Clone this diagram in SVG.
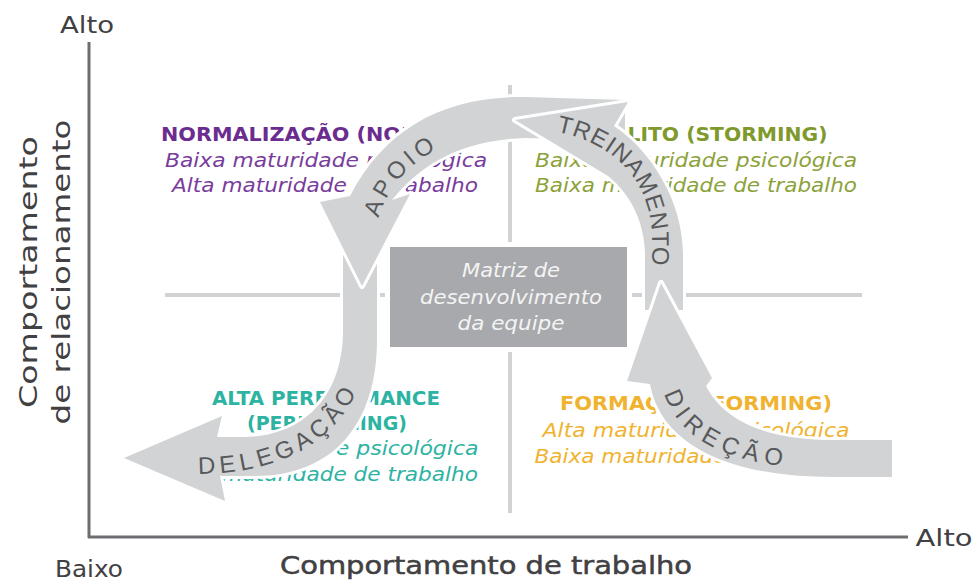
<svg xmlns="http://www.w3.org/2000/svg" width="978" height="581" viewBox="0 0 978 581">
<style>
.axis{stroke:#6d6e71;stroke-width:3;fill:none}
.div{stroke:#d1d2d4;stroke-width:4;fill:none}
.lbl{font-family:'DejaVu Sans','Liberation Sans',sans-serif;fill:#414042}
.t{font-family:'DejaVu Sans','Liberation Sans',sans-serif;font-weight:bold;font-size:20px;text-anchor:middle}
.s{font-family:'DejaVu Sans','Liberation Sans',sans-serif;font-style:italic;font-size:20px;text-anchor:middle}
.norm{fill:#6b2c8f}
.norms{fill:#7a3c9c}
.storm{fill:#7f9a2c}
.storms{fill:#8ca23a}
.perf{fill:#2db3a2}
.form{fill:#f0b330}
.arrOut{fill:#ffffff;stroke:#ffffff;stroke-width:6;stroke-linejoin:round}
.arr{fill:#d1d3d4}
.al{font-family:'Liberation Sans','DejaVu Sans',sans-serif;font-size:24px;fill:#58595b}
.box{fill:#a7a9ac}
.boxt{font-family:'DejaVu Sans','Liberation Sans',sans-serif;font-style:italic;font-size:19px;fill:#f4f4f4;text-anchor:middle}
</style>
<defs>
<path id="pDel" d="M 343 235 L 343 330 C 343 400 300 437 243 437 L 217 437 L 222 416 L 124 458 L 225 501 L 220 476 L 255 476 C 332 476 377 425 377 340 L 377 235 Z"/>
<path id="pApo" d="M 625 100 L 525 97 C 445 96 385 128 350 196 L 320 202 L 362 286 L 410 194 L 392 200 C 420 165 460 140 525 138 L 625 140 Z"/>
<path id="pTre" d="M 645 310 L 645 255 C 645 225 632 195 608 176 L 515 120 L 628 102 L 614 126 C 650 150 683 200 683 255 L 683 310 Z"/>
<path id="pDir" d="M 892 440 L 833 440 C 780 440 728 428 706 386 L 712 378 L 661 283 L 627 381 L 650 384 C 660 440 720 477 833 477 L 892 477 Z"/>
<path id="tDel" d="M 196 474 C 280 474 340 442 362 378"/>
<path id="tApo" d="M 378 220 C 388 186 410 160 452 142"/>
<path id="tTre" d="M 553 131 C 612 141 652 180 652 240 L 652 300"/>
<path id="tDir" d="M 662 386 C 673 432 715 462 802 468"/>
</defs>

<g id="axes">
<line class="axis" x1="89" y1="42" x2="89" y2="538"/>
<line class="axis" x1="88" y1="537" x2="908" y2="537"/>
<text class="lbl" x="87" y="33" font-size="23" text-anchor="middle" textLength="54" lengthAdjust="spacingAndGlyphs">Alto</text>
<text class="lbl" x="89" y="577" font-size="23" text-anchor="middle" textLength="68" lengthAdjust="spacingAndGlyphs">Baixo</text>
<text class="lbl" x="944" y="546" font-size="23" text-anchor="middle" textLength="57" lengthAdjust="spacingAndGlyphs">Alto</text>
<text class="lbl" x="486" y="574" font-size="24" text-anchor="middle" stroke="#414042" stroke-width="0.5" textLength="412" lengthAdjust="spacingAndGlyphs">Comportamento de trabalho</text>
<text class="lbl" transform="translate(37,272) rotate(-90)" font-size="25" text-anchor="middle" textLength="272" lengthAdjust="spacingAndGlyphs">Comportamento</text>
<text class="lbl" transform="translate(70,272) rotate(-90)" font-size="25" text-anchor="middle" textLength="305" lengthAdjust="spacingAndGlyphs">de relacionamento</text>
</g>

<g id="dividers">
<line class="div" x1="510" y1="85" x2="510" y2="513"/>
<line class="div" x1="165" y1="295" x2="862" y2="295"/>
</g>

<g id="quadrant-norming">
<text class="t norm" x="325" y="141" textLength="328" lengthAdjust="spacingAndGlyphs">NORMALIZAÇÃO (NORMING)</text>
<text class="s norms" x="326" y="167" textLength="322" lengthAdjust="spacingAndGlyphs">Baixa maturidade psicológica</text>
<text class="s norms" x="325" y="192" textLength="306" lengthAdjust="spacingAndGlyphs">Alta maturidade de trabalho</text>
</g>

<g id="quadrant-storming">
<text class="t storm" x="696" y="141" textLength="263" lengthAdjust="spacingAndGlyphs">CONFLITO (STORMING)</text>
<text class="s storms" x="696" y="167" textLength="322" lengthAdjust="spacingAndGlyphs">Baixa maturidade psicológica</text>
<text class="s storms" x="696" y="192" textLength="322" lengthAdjust="spacingAndGlyphs">Baixa maturidade de trabalho</text>
</g>

<g id="quadrant-performing">
<text class="t perf" x="326" y="405" textLength="228" lengthAdjust="spacingAndGlyphs">ALTA PERFORMANCE</text>
<text class="t perf" x="327" y="430" textLength="160" lengthAdjust="spacingAndGlyphs">(PERFORMING)</text>
<text class="s perf" x="325" y="455" textLength="307" lengthAdjust="spacingAndGlyphs">Alta maturidade psicológica</text>
<text class="s perf" x="325" y="481" textLength="306" lengthAdjust="spacingAndGlyphs">Alta maturidade de trabalho</text>
</g>

<g id="quadrant-forming">
<text class="t form" x="696" y="410" textLength="272" lengthAdjust="spacingAndGlyphs">FORMAÇÃO (FORMING)</text>
<text class="s form" x="696" y="437" textLength="307" lengthAdjust="spacingAndGlyphs">Alta maturidade psicológica</text>
<text class="s form" x="696" y="463" textLength="323" lengthAdjust="spacingAndGlyphs">Baixa maturidade de trabalho</text>
</g>

<g id="center-box">
<rect x="385" y="242" width="247" height="110" fill="#ffffff"/>
<rect class="box" x="390" y="247" width="237" height="100"/>
<text class="boxt" x="511" y="277" textLength="98" lengthAdjust="spacingAndGlyphs">Matriz de</text>
<text class="boxt" x="511" y="304" textLength="182" lengthAdjust="spacingAndGlyphs">desenvolvimento</text>
<text class="boxt" x="511" y="330" textLength="107" lengthAdjust="spacingAndGlyphs">da equipe</text>
</g>

<g id="connectors">
<g id="arrow-delegacao">
<use href="#pDel" class="arrOut"/>
<use href="#pDel" class="arr"/>
<text class="al"><textPath href="#tDel" startOffset="2" textLength="188" lengthAdjust="spacing">DELEGAÇÃO</textPath></text>
</g>
<g id="arrow-apoio">
<use href="#pApo" class="arrOut"/>
<use href="#pApo" class="arr"/>
<text class="al"><textPath href="#tApo" startOffset="2" textLength="92" lengthAdjust="spacing">APOIO</textPath></text>
</g>
<g id="arrow-treinamento">
<use href="#pTre" class="arrOut"/>
<use href="#pTre" class="arr"/>
<text class="al"><textPath href="#tTre" startOffset="3" textLength="184" lengthAdjust="spacing">TREINAMENTO</textPath></text>
</g>
<g id="arrow-direcao">
<use href="#pDir" class="arrOut"/>
<use href="#pDir" class="arr"/>
<text class="al"><textPath href="#tDir" startOffset="8" textLength="146" lengthAdjust="spacing">DIREÇÃO</textPath></text>
</g>
</g>
</svg>
